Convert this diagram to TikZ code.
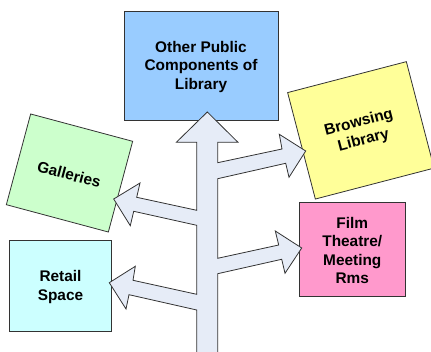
\documentclass[tikz,border=0pt]{standalone}
\usepackage{fontspec}
\setmainfont{Liberation Sans}
\definecolor{bluebox}{HTML}{99CCFF}
\definecolor{greenbox}{HTML}{CCFFCC}
\definecolor{yellowbox}{HTML}{FFFF99}
\definecolor{cyanbox}{HTML}{CCFFFF}
\definecolor{pinkbox}{HTML}{FF99CC}
\definecolor{arrowfill}{HTML}{E6ECF7}
\definecolor{edgegray}{HTML}{333333}
\newcommand{\lowerstrut}{\rule{0pt}{14pt}}
\tikzset{
  roombox/.style={draw=edgegray,line width=0.8pt,inner sep=0pt,align=center,
    font=\bfseries\fontsize{15.4}{18.5}\selectfont,text=black},
  bigarrow/.style={draw=edgegray,line width=0.8pt,fill=arrowfill,line join=miter}
}
\begin{document}
\begin{tikzpicture}[x=1pt,y=-1pt]
\useasboundingbox (0,0) rectangle (431,352);
\node[roombox,fill=bluebox,minimum width=154pt,minimum height=109pt] (public) at (201,65.5) {\lowerstrut Other Public\\Components of\\Library};
\node[roombox,fill=greenbox,minimum width=105.6pt,minimum height=93.9pt,rotate=-15] (galleries) at (69.5,173) {\lowerstrut Galleries};
\node[roombox,fill=yellowbox,minimum width=122.7pt,minimum height=110pt,rotate=14.6] (browsing) at (360.85,130.35) {\lowerstrut Browsing\\Library};
\node[roombox,fill=cyanbox,minimum width=102.4pt,minimum height=91pt] (retail) at (60.5,285.5) {\lowerstrut Retail\\Space};
\node[roombox,fill=pinkbox,minimum width=106pt,minimum height=94pt] (film) at (352.3,249) {\lowerstrut Film\\Theatre/\\Meeting\\Rms};
\draw[bigarrow] (207.3,112) -- (238,142.3) -- (217.7,142.3) -- (217.7,162.7)
  -- (282,149) -- (279.3,134.3) -- (305.7,151) -- (289,177.3) -- (285.7,163.3)
  -- (217.7,178.7) -- (217.7,258.3) -- (278.7,245) -- (275.3,231) -- (301.7,248)
  -- (285,273.3) -- (281.7,259.3) -- (217.7,273.7) -- (217.7,353) -- (196.7,353)
  -- (196.7,310) -- (129,294.7) -- (126,309) -- (109.3,282.7) -- (135.3,266.3)
  -- (133,280.3) -- (196.7,294.3) -- (196.7,225.3) -- (133.7,211.3) -- (130.3,225.7)
  -- (113.7,199) -- (140,183) -- (136.7,197.3) -- (196.7,210.3) -- (196.7,142.3)
  -- (176.3,142.3) -- cycle;
\end{tikzpicture}
\end{document}
